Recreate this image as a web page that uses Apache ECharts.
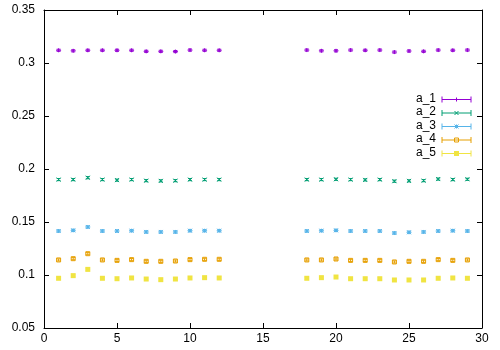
<!DOCTYPE html>
<html>
<head>
<meta charset="utf-8">
<script src="https://cdn.jsdelivr.net/npm/echarts@6/dist/echarts.min.js"></script>
<style>
  html, body { margin: 0; padding: 0; background: #fff; }
  #main { width: 500px; height: 350px; }
</style>
</head>
<body>
<div id="main"></div>
<script>
// x positions (gap between 12 and 18)
var xValues = [1, 2, 3, 4, 5, 6, 7, 8, 9, 10, 11, 12,
               18, 19, 20, 21, 22, 23, 24, 25, 26, 27, 28, 29];

var a_1 = [0.3120, 0.3115, 0.3120, 0.3120, 0.3120, 0.3120, 0.3110, 0.3110, 0.3108, 0.3122, 0.3120, 0.3120,
           0.3122, 0.3115, 0.3115, 0.3122, 0.3120, 0.3122, 0.3103, 0.3113, 0.3110, 0.3122, 0.3120, 0.3122];
var a_2 = [0.1900, 0.1900, 0.1918, 0.1900, 0.1895, 0.1900, 0.1890, 0.1888, 0.1890, 0.1900, 0.1900, 0.1900,
           0.1900, 0.1900, 0.1903, 0.1900, 0.1897, 0.1900, 0.1885, 0.1888, 0.1890, 0.1905, 0.1900, 0.1903];
var a_3 = [0.1415, 0.1421, 0.1453, 0.1415, 0.1415, 0.1418, 0.1406, 0.1406, 0.1406, 0.1418, 0.1418, 0.1418,
           0.1415, 0.1418, 0.1421, 0.1415, 0.1415, 0.1415, 0.1396, 0.1403, 0.1406, 0.1415, 0.1418, 0.1415];
var a_4 = [0.1142, 0.1154, 0.1201, 0.1142, 0.1138, 0.1145, 0.1129, 0.1129, 0.1132, 0.1145, 0.1148, 0.1148,
           0.1142, 0.1142, 0.1151, 0.1138, 0.1138, 0.1138, 0.1123, 0.1129, 0.1129, 0.1145, 0.1138, 0.1142];
var a_5 = [0.0969, 0.0994, 0.1053, 0.0969, 0.0965, 0.0972, 0.0962, 0.0956, 0.0962, 0.0972, 0.0975, 0.0972,
           0.0969, 0.0975, 0.0981, 0.0965, 0.0965, 0.0965, 0.0953, 0.0953, 0.0953, 0.0969, 0.0972, 0.0969];

// rough error bar half-heights, one per series (tiny, mostly hidden by the marks)
var errs = [0.001, 0.001, 0.001, 0.001, 0.001];

var names = ['a_1', 'a_2', 'a_3', 'a_4', 'a_5'];
var colors = ['#9400d3', '#009e73', '#56b4e9', '#e69f00', '#f0e442'];
var shapes = ['plus', 'cross', 'star', 'box', 'fbox'];
var allData = [a_1, a_2, a_3, a_4, a_5];

var fontName = 'Liberation Sans';

function seg(x1, y1, x2, y2, color) {
  return { type: 'line', shape: { x1: x1, y1: y1, x2: x2, y2: y2 },
           style: { stroke: color, lineWidth: 1 } };
}

function glyph(shape, x, y, color) {
  var r = 2, out = [];
  if (shape == 'plus' || shape == 'star') {
    out.push(seg(x - 2.5, y, x + 2.5, y, color));
    out.push(seg(x, y - 2, x, y + 2, color));
  }
  if (shape == 'cross' || shape == 'star') {
    out.push(seg(x - r, y - r, x + r, y + r, color));
    out.push(seg(x - r, y + r, x + r, y - r, color));
  }
  if (shape == 'box') {
    out.push({ type: 'rect', shape: { x: x - r, y: y - r, width: 2 * r, height: 2 * r },
               style: { fill: 'none', stroke: color, lineWidth: 1 } });
  }
  if (shape == 'fbox') {
    out.push({ type: 'rect', shape: { x: x - 2.5, y: y - 2.5, width: 5, height: 5 },
               style: { fill: color } });
  }
  return out;
}

function makeSeries(k) {
  return {
    name: names[k],
    type: 'custom',
    data: xValues.map(function (x, i) { return [x, allData[k][i]]; }),
    encode: { x: 0, y: 1 },
    renderItem: function (params, api) {
      var xv = api.value(0), yv = api.value(1);
      var p = api.coord([xv, yv]);
      var top = api.coord([xv, yv + errs[k]])[1];
      var bot = api.coord([xv, yv - errs[k]])[1];
      var c = colors[k];
      var kids = [
        seg(p[0], top, p[0], bot, c),
        seg(p[0] - 2, top, p[0] + 2, top, c),
        seg(p[0] - 2, bot, p[0] + 2, bot, c)
      ].concat(glyph(shapes[k], p[0], p[1], c));
      return { type: 'group', children: kids };
    }
  };
}

// legend drawn by hand, gnuplot style
var legendItems = [];
names.forEach(function (n, k) {
  var y = 99.5 + 13.5 * k, c = colors[k];
  legendItems.push({ type: 'text', right: 500 - 436, top: y - 7,
    style: { text: n, fill: '#000', font: '12px ' + fontName, align: 'right' } });
  legendItems.push({ type: 'group', children: [
    seg(442, y, 471, y, c),
    seg(442, y - 3, 442, y + 3, c),
    seg(471, y - 3, 471, y + 3, c)
  ].concat(glyph(shapes[k], 456.5, y, c)) });
});

var axisBase = {
  type: 'value',
  axisLine: { show: true, onZero: false, lineStyle: { color: '#000', width: 1 } },
  axisTick: { show: true, inside: true, length: 5, lineStyle: { color: '#000' } },
  splitLine: { show: false }
};

function fmt(v) { return String(+v.toFixed(2)); }

var option = {
  animation: false,
  backgroundColor: '#fff',
  textStyle: { fontFamily: fontName },
  grid: { left: 44, right: 18, top: 10, bottom: 22 },
  xAxis: [
    Object.assign({}, axisBase, { position: 'bottom', min: 0, max: 30, interval: 5,
      axisLabel: { color: '#000', fontSize: 12, margin: 5, formatter: fmt } }),
    Object.assign({}, axisBase, { position: 'top', min: 0, max: 30, interval: 5,
      axisLabel: { show: false } })
  ],
  yAxis: [
    Object.assign({}, axisBase, { position: 'left', min: 0.05, max: 0.35, interval: 0.05,
      axisLabel: { color: '#000', fontSize: 12, margin: 9, formatter: fmt } }),
    Object.assign({}, axisBase, { position: 'right', min: 0.05, max: 0.35, interval: 0.05,
      axisLabel: { show: false } })
  ],
  graphic: legendItems,
  series: [0, 1, 2, 3, 4].map(makeSeries)
};

var chart = echarts.init(document.getElementById('main'));
chart.setOption(option);
</script>
</body>
</html>
